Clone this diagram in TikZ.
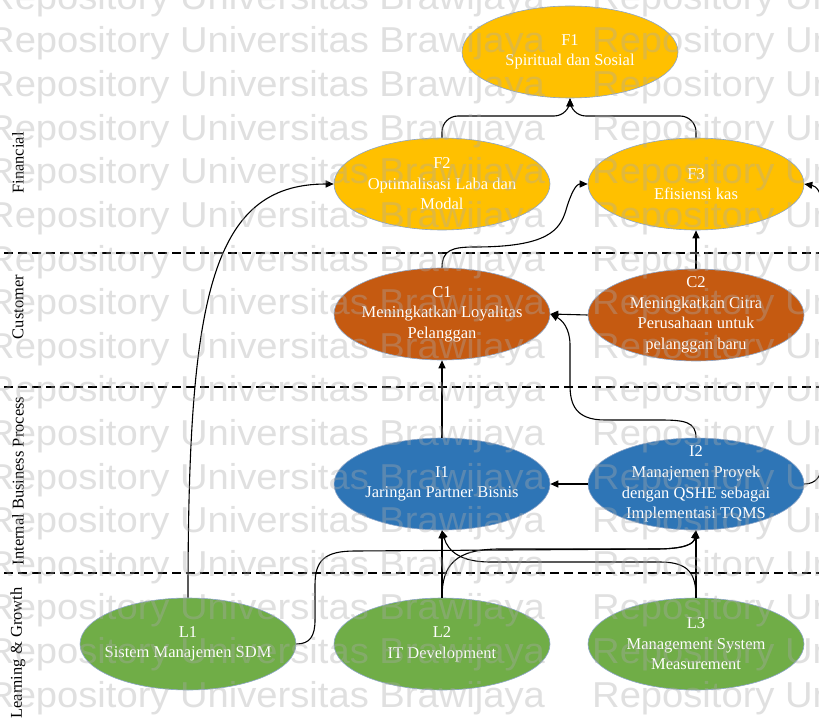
\documentclass[tikz,border=0pt]{standalone}
\usepackage{fontspec}
\setmainfont{Liberation Serif}
\newfontfamily\wmfont[FakeStretch=1.06]{Liberation Sans}
\usetikzlibrary{arrows.meta,shapes.geometric}

\definecolor{finyellow}{RGB}{255,192,0}
\definecolor{custorange}{RGB}{197,90,17}
\definecolor{procblue}{RGB}{46,117,182}
\definecolor{growgreen}{RGB}{112,173,71}
\definecolor{rimblue}{RGB}{140,165,200}
\definecolor{wmgray}{RGB}{170,170,170}

\begin{document}
\begin{tikzpicture}[x=1pt,y=-1pt,
  goal/.style={ellipse, draw=rimblue, line width=0.6pt,
    minimum width=216pt, minimum height=92pt, inner sep=0pt},
  goalfin/.style={goal, fill=finyellow},
  goalcust/.style={goal, fill=custorange},
  goalproc/.style={goal, fill=procblue},
  goallearn/.style={goal, fill=growgreen},
  goaltext/.style={text=white, align=center, inner sep=0pt,
    font=\fontsize{16.5}{20.6}\selectfont},
  conn/.style={line width=1.1pt, -{Triangle[length=8pt,width=7pt]}},
  lane/.style={dash pattern=on 9pt off 5pt, line width=1.1pt},
  persp/.style={rotate=90, inner sep=0pt, font=\fontsize{16.5}{20}\selectfont},
  wm/.style={anchor=base west, inner sep=0pt, text=wmgray, opacity=0.36,
    font=\wmfont\fontsize{36}{36}\selectfont}
]
\useasboundingbox (0,0) rectangle (819,722);
\clip (0,0) rectangle (819,722);
\fill[white] (0,0) rectangle (819,722);

% perspective lanes
\draw[lane] (4,253) -- (819,253);
\draw[lane] (4,387) -- (819,387);
\draw[lane] (4,573) -- (819,573);

\node[persp] (pF) at (18,163) {Financial};
\node[persp] (pC) at (18,307) {Customer};
\node[persp] (pI) at (18,481) {Internal Business Process};
\node[persp] (pL) at (18,653) {Learning \& Growth};

% objectives
\node[goalfin]   (F1) at (570,52)  {};
\node[goalfin]   (F2) at (442,184) {};
\node[goalfin]   (F3) at (696,184) {};
\node[goalcust]  (C1) at (442,314) {};
\node[goalcust]  (C2) at (696,315) {};
\node[goalproc]  (I1) at (442,484) {};
\node[goalproc]  (I2) at (696,484) {};
\node[goallearn] (L1) at (188,644) {};
\node[goallearn] (L2) at (442,644) {};
\node[goallearn] (L3) at (696,644) {};

\node[goaltext] (tF1) at (F1) {F1\\Spiritual dan Sosial};
\node[goaltext] (tF2) at (F2) {F2\\Optimalisasi Laba dan\\Modal};
\node[goaltext] (tF3) at (F3) {F3\\Efisiensi kas};
\node[goaltext] (tC1) at (C1) {C1\\Meningkatkan Loyalitas\\Pelanggan};
\node[goaltext] (tC2) at (C2) {C2\\Meningkatkan Citra\\Perusahaan untuk\\pelanggan baru};
\node[goaltext] (tI1) at (I1) {I1\\Jaringan Partner Bisnis};
\node[goaltext] (tI2) at (I2) {I2\\Manajemen Proyek\\dengan QSHE sebagai\\Implementasi TQMS};
\node[goaltext] (tL1) at (L1) {L1\\Sistem Manajemen SDM};
\node[goaltext] (tL2) at (L2) {L2\\IT Development};
\node[goaltext] (tL3) at (L3) {L3\\Management System\\Measurement};

% cause-effect links
\coordinate (F1in) at (570,116);
\draw[conn, rounded corners=16pt] (F2.north) |- (F1in) -- (F1.south);
\draw[conn, rounded corners=16pt] (F3.north) |- (F1in) -- (F1.south);

\draw[conn] (L1.north) .. controls (188,300) and (210,184) .. (F2.west);

\draw[conn] (C1.north) .. controls (442,250) and (452,247) .. (475,247)
  .. controls (548,247) and (560,230) .. (566,210)
  .. controls (571,193) and (576,184) .. (F3.west);
\draw[conn] (C2.north) -- (F3.south);
\draw[conn] (C2.west) -- (C1.east);

\draw[conn] (I1.north) -- (C1.south);
\draw[conn] (I2.north) .. controls (696,422) and (685,420) .. (660,420)
  -- (605,420) .. controls (576,420) and (570,405) .. (570,385)
  -- (570,345) .. controls (570,328) and (562,320) .. (C1.east);
\draw[conn] (I2.west) -- (I1.east);
\draw[conn] (I2.east) .. controls (816,484) and (822,476) .. (822,462)
  -- (822,206) .. controls (822,192) and (816,186) .. (F3.east);

\draw[conn] (L1.east) .. controls (310,644) and (315,636) .. (315,620)
  -- (315,585) .. controls (315,560) and (325,551) .. (355,551)
  -- (655,549) .. controls (685,549) and (694,544) .. (I2.south);
\draw[conn] (L2.north) .. controls (442,565) and (455,549) .. (500,549)
  -- (655,549) .. controls (685,549) and (694,544) .. (I2.south);
\draw[conn] (L2.north) -- (I1.south);
\draw[conn] (L3.north) .. controls (696,575) and (690,562) .. (660,562)
  -- (490,562) .. controls (462,562) and (448,552) .. (I1.south);
\draw[conn] (L3.north) -- (I2.south);

% repository watermark
\foreach \k in {0,...,16} {
  \pgfmathsetmacro\yb{9.4+43.6*\k}
  \node[wm] (wmA\k) at (-13,\yb) {Repository Universitas Brawijaya};
  \node[wm] (wmB\k) at (592,\yb) {Repository Universitas Brawijaya};
}
\end{tikzpicture}
\end{document}
